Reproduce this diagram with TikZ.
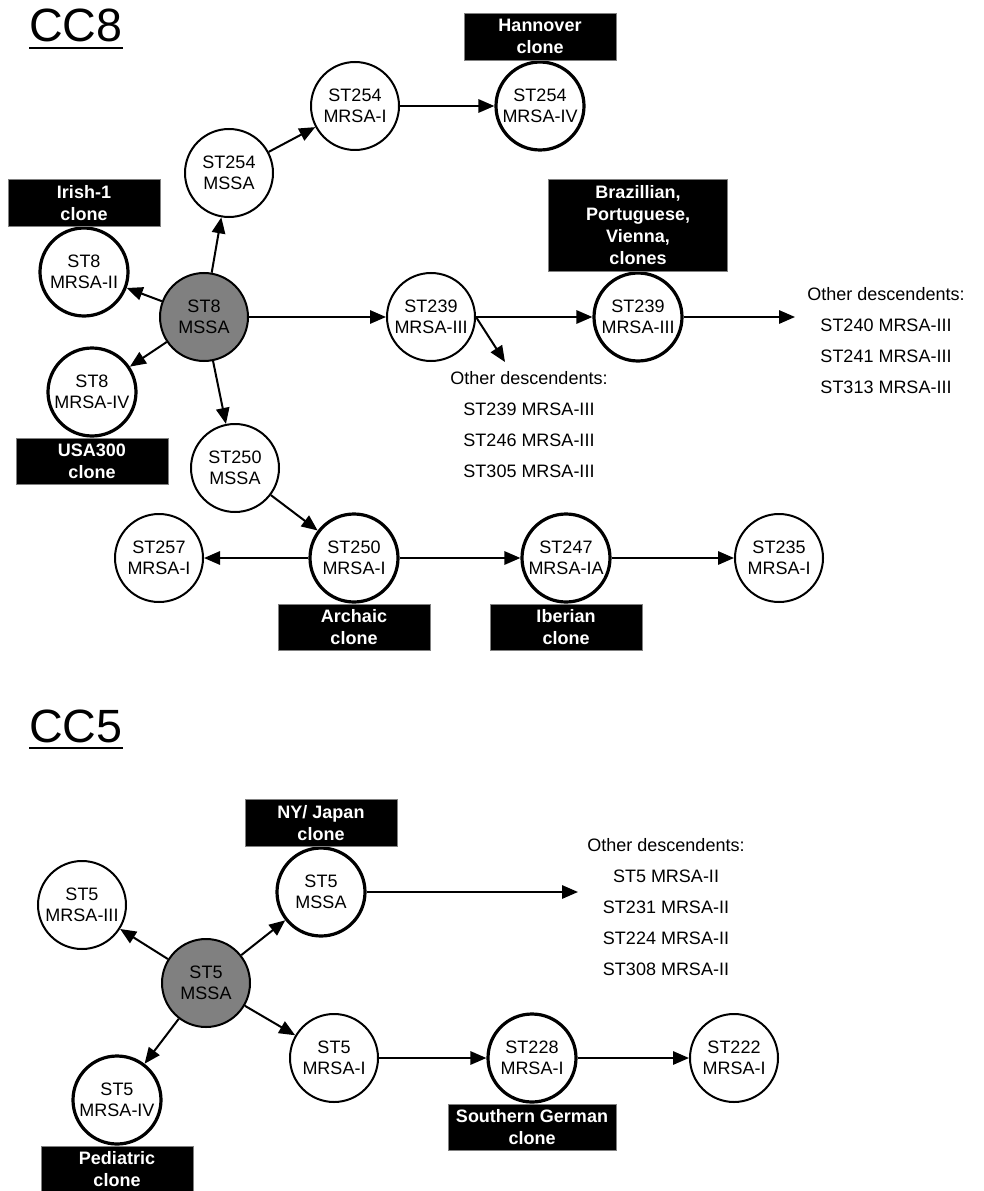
\documentclass[tikz,border=0pt]{standalone}
\usepackage{fontspec}
\setmainfont{Liberation Sans}
\usetikzlibrary{arrows.meta,positioning}

\definecolor{rootgray}{HTML}{808080}

\tikzset{
    st/.style={circle, draw, line width=1.5pt, minimum size=66pt, inner sep=0pt, fill=white, align=center, font=\fontsize{13.5}{16}\selectfont},
    stthick/.style={st, line width=2.4pt},
    root/.style={st, fill=rootgray},
    clonebox/.style={rectangle, fill=black, draw=gray, line width=0.6pt, text=white, minimum width=114pt, minimum height=35pt, inner sep=0pt, align=center, font=\bfseries\fontsize{13.5}{16.5}\selectfont},
    desc/.style={anchor=north, inner sep=0pt, align=center, font=\fontsize{13.5}{23.3}\selectfont},
    cctitle/.style={anchor=base west, inner sep=0pt, font=\fontsize{35}{40}\selectfont},
    arr/.style={line width=1.5pt, -{Triangle[length=12pt,width=10pt]}}
}

\begin{document}
\begin{tikzpicture}[x=0.75pt, y=-0.75pt]
    \useasboundingbox (0,0) rectangle (983,1191);

    \node[cctitle] (cc8) at (29,42) {CC8};
    \draw[line width=2.2pt] ([yshift=-4.5pt]cc8.base west) -- ([yshift=-4.5pt]cc8.base east);

    \node[root] (st8) at (204,317) {ST8\\MSSA};
    \node[st] (s254m) at (229,173) {ST254\\MSSA};
    \node[st] (s254i) at (355,106) {ST254\\MRSA-I};
    \node[stthick] (s254iv) at (540,106) {ST254\\MRSA-IV};
    \node[stthick] (s8ii) at (84,272) {ST8\\MRSA-II};
    \node[stthick] (s8iv) at (92,392) {ST8\\MRSA-IV};
    \node[st] (s239a) at (431,317) {ST239\\MRSA-III};
    \node[stthick] (s239b) at (638,317) {ST239\\MRSA-III};
    \node[st] (s250m) at (235,468) {ST250\\MSSA};
    \node[st] (s257) at (159,558) {ST257\\MRSA-I};
    \node[stthick] (s250i) at (354,558) {ST250\\MRSA-I};
    \node[stthick] (s247) at (566,558) {ST247\\MRSA-IA};
    \node[st] (s235) at (779,558) {ST235\\MRSA-I};

    \node[clonebox, above=0pt of s254iv] (hannover) {Hannover\\clone};
    \node[clonebox, above=0pt of s8ii] (irish) {Irish-1\\clone};
    \node[clonebox, below=0pt of s8iv] (usa300) {USA300\\clone};
    \node[clonebox, above=0pt of s239b, minimum width=134pt, minimum height=69pt] (brazil) {Brazillian,\\Portuguese,\\Vienna,\\clones};
    \node[clonebox, below=0pt of s250i] (archaic) {Archaic\\clone};
    \node[clonebox, below=0pt of s247] (iberian) {Iberian\\clone};

    \node[desc] (d239a) at (529,371) {Other descendents:\\ST239 MRSA-III\\ST246 MRSA-III\\ST305 MRSA-III};
    \node[desc] (d239b) at (886,287) {Other descendents:\\ST240 MRSA-III\\ST241 MRSA-III\\ST313 MRSA-III};
    \coordinate (tip239a) at (505,362);
    \coordinate (tip239b) at (795,317);

    \draw[arr] (st8) -- (s254m);
    \draw[arr] (s254m) -- (s254i);
    \draw[arr] (s254i) -- (s254iv);
    \draw[arr] (st8) -- (s8ii);
    \draw[arr] (st8) -- (s8iv);
    \draw[arr] (st8) -- (s239a);
    \draw[arr] (s239a) -- (s239b);
    \draw[arr] (s239a.east) -- (tip239a);
    \draw[arr] (s239b) -- (tip239b);
    \draw[arr] (st8) -- (s250m);
    \draw[arr] (s250m) -- (s250i);
    \draw[arr] (s250i) -- (s257);
    \draw[arr] (s250i) -- (s247);
    \draw[arr] (s247) -- (s235);

    \node[cctitle] (cc5) at (29,742) {CC5};
    \draw[line width=2.2pt] ([yshift=-4.5pt]cc5.base west) -- ([yshift=-4.5pt]cc5.base east);

    \node[root] (st5) at (206,983) {ST5\\MSSA};
    \node[stthick] (s5m) at (321,892) {ST5\\MSSA};
    \node[st] (s5iii) at (82,905) {ST5\\MRSA-III};
    \node[st] (s5i) at (334,1058) {ST5\\MRSA-I};
    \node[stthick] (s5iv) at (117,1100) {ST5\\MRSA-IV};
    \node[stthick] (s228) at (532,1058) {ST228\\MRSA-I};
    \node[st] (s222) at (734,1058) {ST222\\MRSA-I};

    \node[clonebox, above=0pt of s5m] (nyjapan) {NY/ Japan\\clone};
    \node[clonebox, below=0pt of s5iv] (pediatric) {Pediatric\\clone};
    \node[clonebox, below=0pt of s228, minimum width=126pt] (sgerman) {Southern German\\clone};

    \node[desc] (d5) at (666,838) {Other descendents:\\ST5 MRSA-II\\ST231 MRSA-II\\ST224 MRSA-II\\ST308 MRSA-II};
    \coordinate (tip5) at (578,892);

    \draw[arr] (st5) -- (s5iii);
    \draw[arr] (st5) -- (s5m);
    \draw[arr] (s5m) -- (tip5);
    \draw[arr] (st5) -- (s5iv);
    \draw[arr] (st5) -- (s5i);
    \draw[arr] (s5i) -- (s228);
    \draw[arr] (s228) -- (s222);
\end{tikzpicture}
\end{document}
